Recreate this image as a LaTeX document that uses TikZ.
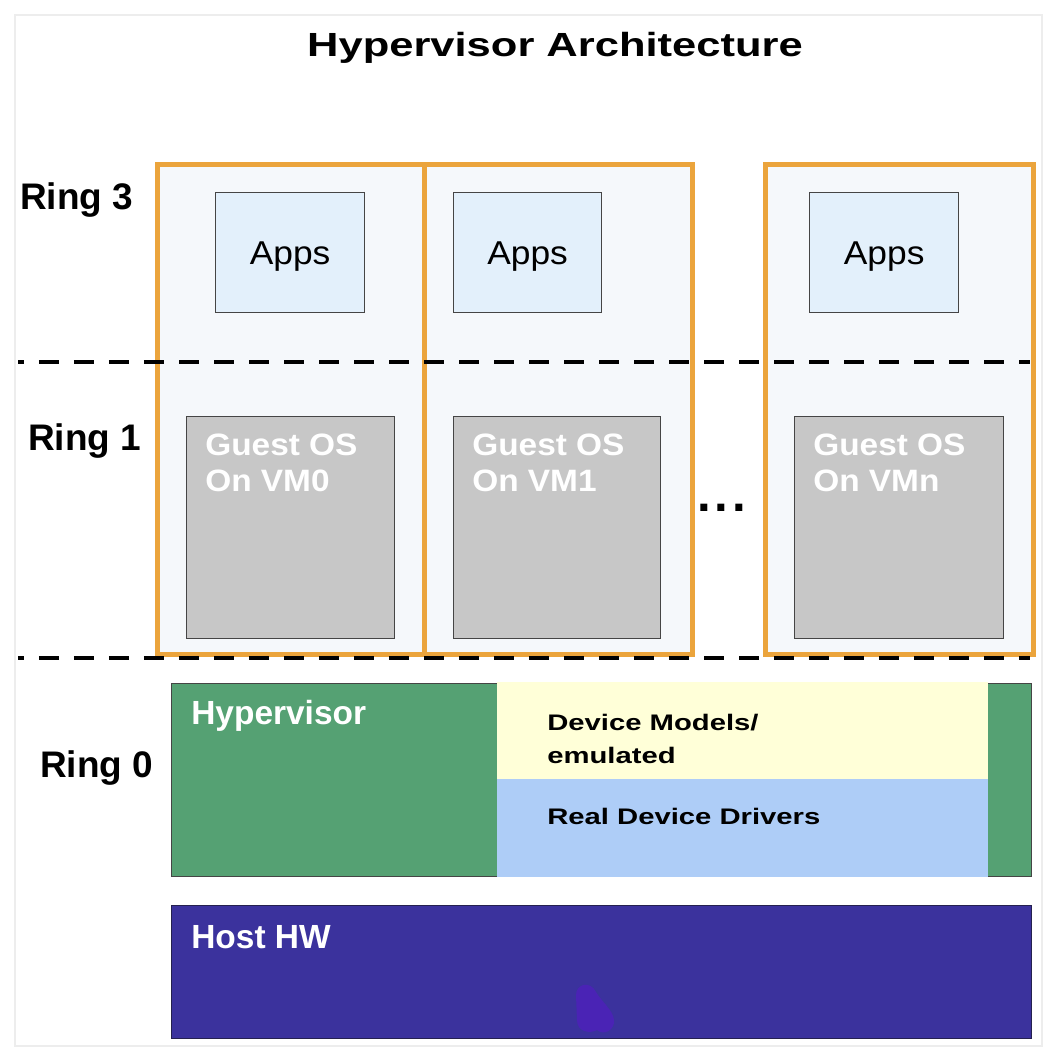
\documentclass[tikz,border=0pt]{standalone}
\usepackage{fontspec}
\setmainfont{Liberation Sans}
\usepackage{graphicx}
\definecolor{vmorange}{HTML}{EBA43C}
\definecolor{vmfill}{HTML}{F5F8FB}
\definecolor{appsfill}{HTML}{E3F0FB}
\definecolor{guestgray}{HTML}{C7C7C7}
\definecolor{boxedge}{HTML}{454545}
\definecolor{hvgreen}{HTML}{55A173}
\definecolor{devyellow}{HTML}{FFFFD8}
\definecolor{devblue}{HTML}{AECDF7}
\definecolor{hwindigo}{HTML}{3B329D}
\definecolor{hwedge}{HTML}{25214F}
\definecolor{blobc}{HTML}{4A23B5}
\begin{document}
\begin{tikzpicture}[x=0.025cm,y=-0.025cm,
  sz/.style 2 args={minimum width=#1*0.025cm, minimum height=#2*0.025cm, inner sep=0pt, anchor=north west},
  vmbox/.style={draw=vmorange, fill=vmfill, line width=3.6pt},
  appbox/.style={draw=boxedge, fill=appsfill, line width=0.9pt, text depth=0pt,
    font=\fontsize{23.5}{28}\selectfont},
  guestbox/.style={draw=boxedge, fill=guestgray, line width=0.9pt},
  guesttxt/.style={anchor=north west, inner sep=0pt, align=left, text=white,
    font=\bfseries\fontsize{22}{25.6}\selectfont},
  ringlbl/.style={anchor=base west, inner sep=0pt, font=\bfseries\fontsize{26.3}{30}\selectfont},
  whitelbl/.style={anchor=base west, inner sep=0pt, text=white, font=\bfseries\fontsize{23.8}{28}\selectfont},
  devtxt/.style={inner sep=0pt, font=\bfseries\fontsize{16}{23.5}\selectfont},
  ringsep/.style={line width=2.85pt, dash pattern=on 14.2pt off 10.7pt, dash phase=10pt}]
\useasboundingbox (0,0) rectangle (1062,1064);
\fill[white] (0,0) rectangle (1062,1064);
\draw[black!7, line width=0.8pt] (15,15) rectangle (1042,1046);

% title
\node[anchor=base, inner sep=0pt, font=\bfseries\fontsize{23.8}{28}\selectfont] (title) at (555,57)
  {\scalebox{1.3}[1]{Hypervisor Architecture}};

% ring labels
\node[ringlbl] (r3) at (20,209) {Ring 3};
\node[ringlbl] (r1) at (28,450) {Ring 1};
\node[ringlbl] (r0) at (40,777) {Ring 0};

% VM frames
\node[vmbox, sz={267}{490}] (vm0) at (155,162) {};
\node[vmbox, sz={268}{490}] (vm1) at (422,162) {};
\node[vmbox, sz={268}{490}] (vmn) at (763,162) {};

% ring separators
\coordinate (s1a) at (18,362);  \coordinate (s1b) at (1030,362);
\coordinate (s2a) at (18,658);  \coordinate (s2b) at (1030,658);
\draw[ringsep] (s1a) -- (s1b);
\draw[ringsep] (s2a) -- (s2b);

% apps
\node[appbox, sz={149}{120}] (app0) at (215,192) {};
\node[appbox, sz={148}{120}] (app1) at (453,192) {};
\node[appbox, sz={149}{120}] (appn) at (809,192) {};
\foreach \a in {app0,app1,appn}
  \node[inner sep=0pt, text depth=0pt, font=\fontsize{23.5}{28}\selectfont] (\a t) at (\a.center) {\scalebox{1.07}[1]{Apps}};

% guest OS
\node[guestbox, sz={208}{222}] (g0) at (186,416) {};
\node[guestbox, sz={207}{222}] (g1) at (453,416) {};
\node[guestbox, sz={209}{222}] (gn) at (794,416) {};
\node[guesttxt] (g0t) at ([shift={(19,18)}]g0.north west)
  {\scalebox{1.08}[1]{Guest OS}\\\scalebox{1.08}[1]{On VM0}};
\node[guesttxt] (g1t) at ([shift={(19,18)}]g1.north west)
  {\scalebox{1.08}[1]{Guest OS}\\\scalebox{1.08}[1]{On VM1}};
\node[guesttxt] (gnt) at ([shift={(19,18)}]gn.north west)
  {\scalebox{1.08}[1]{Guest OS}\\\scalebox{1.08}[1]{On VMn}};

% dots
\node[anchor=base west, inner sep=0pt, font=\bfseries\fontsize{35}{40}\selectfont] (dots) at (697,511)
  {.\kern2.7pt.\kern2.7pt.};

% hypervisor layer
\node[draw=boxedge, fill=hvgreen, line width=0.9pt, sz={860}{193}] (hv) at (171,683) {};
\node[fill=devyellow, sz={491}{97}] (dm) at (497,681.5) {};
\node[fill=devblue, sz={491}{98.5}] (rd) at (497,778.5) {};
\node[whitelbl] (hvt) at (191,724) {Hypervisor};
\node[devtxt, anchor=north west, align=left] (dmt) at (547,714)
  {\scalebox{1.3}[1]{Device Models/}\\\scalebox{1.3}[1]{emulated}};
\node[devtxt, anchor=base west] (rdt) at (547,824) {\scalebox{1.3}[1]{Real Device Drivers}};

% host hardware
\node[draw=hwedge, fill=hwindigo, line width=0.9pt, sz={860}{133}] (hw) at (171,905) {};
\node[whitelbl] (hwt) at (191,948) {Host HW};
\fill[blobc] (576,995) .. controls (576,984) and (590,980) .. (596,992)
  .. controls (601,1001) and (613,1010) .. (614,1020)
  .. controls (615,1030) and (604,1036) .. (597,1030)
  .. controls (590,1034) and (577,1032) .. (577,1020) -- cycle;
\end{tikzpicture}
\end{document}
